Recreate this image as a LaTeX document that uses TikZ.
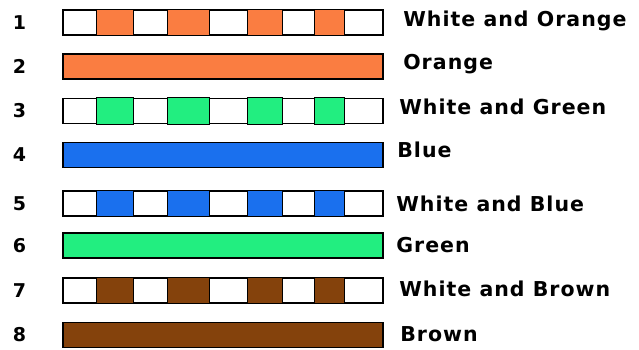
\documentclass[tikz,border=0pt]{standalone}
\usepackage{fontspec}
\setsansfont{DejaVu Sans}
\usetikzlibrary{positioning}
\definecolor{wireorange}{HTML}{FA7D41}
\definecolor{wiregreen}{HTML}{22EE80}
\definecolor{wireblue}{HTML}{1A70EE}
\definecolor{wirebrown}{HTML}{84420C}

\begin{document}
\begin{tikzpicture}[x=1pt, y=-1pt,
      wire/.style={draw=black, line width=1.2pt, fill=white,
        minimum width=320pt, minimum height=25pt, inner sep=0pt},
      stripe/.style={draw=black, line width=1.2pt},
      pin/.style={inner sep=0pt, font=\sffamily\bfseries\fontsize{19}{19}\selectfont},
      colour/.style={inner sep=0pt, text height=15pt, text depth=0pt,
        font=\sffamily\bfseries\fontsize{20.5}{20.5}\selectfont\addfontfeature{LetterSpace=5}}
    ]
      \fill[white] (0,0) rectangle (639,350);
      \useasboundingbox (0,0) rectangle (639,350);
      % striped pairs
      \foreach \n/\y/\col/\gap/\up/\txt in {1/22.5/wireorange/19.5/3.5/White and Orange,
          3/111/wiregreen/15.5/4.5/White and Green, 5/203.5/wireblue/12.5/0/White and Blue,
          7/290.5/wirebrown/15.5/2/White and Brown} {
        \node[wire] (wire\n) at (223,\y) {};
        \foreach \a/\b in {34/71, 105/147, 185/220, 252/282}
          \draw[stripe, fill=\col] ([xshift=\a pt]wire\n.south west) rectangle ([xshift=\b pt]wire\n.north west);
        \node[pin, left=36pt of wire\n] (pin\n) {\n};
        \node[colour, right=\gap pt of wire\n, yshift=\up pt] (label\n) {\txt};
      }
      % solid wires
      \foreach \n/\y/\col/\gap/\up/\txt in {2/66.5/wireorange/19.5/4/Orange,
          4/155/wireblue/13.5/5/Blue, 6/245.5/wiregreen/12.5/0.5/Green,
          8/335/wirebrown/16.5/1.5/Brown} {
        \node[wire, fill=\col] (wire\n) at (223,\y) {};
        \node[pin, left=36pt of wire\n] (pin\n) {\n};
        \node[colour, right=\gap pt of wire\n, yshift=\up pt] (label\n) {\txt};
      }
    \end{tikzpicture}
\end{document}
